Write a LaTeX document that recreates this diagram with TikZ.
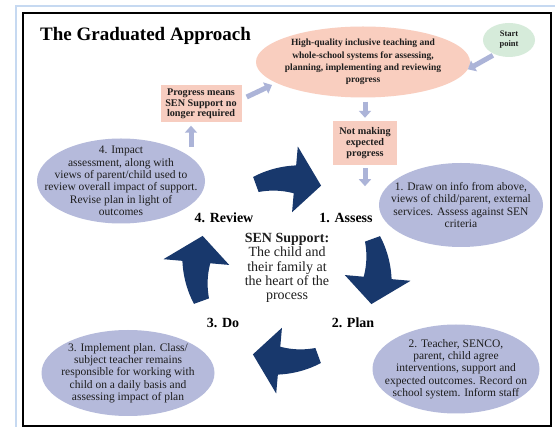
\documentclass[tikz,border=0pt]{standalone}
\usepackage{fontspec}
\setmainfont{Liberation Serif}
\usetikzlibrary{shapes.geometric,arrows.meta}
\definecolor{lav}{RGB}{181,186,219}
\definecolor{lavar}{RGB}{172,180,216}
\definecolor{pinkf}{RGB}{249,206,191}
\definecolor{boxf}{RGB}{247,205,192}
\definecolor{greenf}{RGB}{214,235,218}
\definecolor{navy}{RGB}{24,56,108}
\definecolor{frameblue}{RGB}{198,217,241}
\definecolor{txt}{RGB}{30,30,30}
\newcommand{\cycarrow}[1]{%
  \pgfmathsetmacro{\ta}{#1-21}%
  \pgfmathsetmacro{\tb}{#1+4}%
  \pgfmathsetmacro{\tc}{#1+21}%
  \fill[navy] plot[domain=\ta:\tb,samples=30] ({287+(99+6*(\x-(\ta))/25)*cos(\x)},{270+(99+6*(\x-(\ta))/25)*sin(\x)})
    -- ({287+124*cos(\tb)},{270+124*sin(\tb)})
    -- ({287+91*cos(\tc)},{270+91*sin(\tc)})
    -- ({287+58*cos(\tb)},{270+58*sin(\tb)})
    -- plot[domain=\tb:\ta,samples=30] ({287+(83-6*(\x-(\ta))/25)*cos(\x)},{270+(83-6*(\x-(\ta))/25)*sin(\x)})
    -- cycle;
}
\begin{document}
\begin{tikzpicture}[x=1pt,y=-1pt,
  shapeell/.style={ellipse, draw=none, inner sep=0pt},
  lavell/.style={shapeell, fill=lav},
  lavtxt/.style={align=center, font=\fontsize{11.5}{12.3}\selectfont, text=txt, inner sep=0pt},
  pinktxt/.style={align=center, font=\bfseries\fontsize{9.5}{12.4}\selectfont, text=txt, inner sep=0pt},
  salbox/.style={rectangle, fill=boxf, align=center, font=\bfseries\fontsize{10.2}{10.7}\selectfont, text=txt, inner sep=0pt},
  steplabel/.style={font=\bfseries\fontsize{14}{16}\selectfont, text=black, inner sep=0pt},
  lavarrow/.style={draw=lavar, line width=5pt, -{Triangle[width=12pt,length=7pt]}},
]
\useasboundingbox (0,0) rectangle (555,427);
\fill[white] (0,0) rectangle (555,427);
% frames
\draw[frameblue, line width=2pt] (16,427) -- (16,6) -- (555,6);
\draw[black, line width=1.6pt] (23,13) rectangle (551,426);
% title
\node[anchor=west, font=\bfseries\fontsize{19}{22}\selectfont, inner sep=0pt] (title) at (40,36) {The Graduated Approach};
% top ellipse
\node[shapeell, fill=pinkf, minimum width=214pt, minimum height=71pt] (hq) at (363,62) {};
\node[pinktxt] (hqt) at (hq) {High-quality inclusive teaching and\\whole-school systems for assessing,\\planning, implementing and reviewing\\progress};
% start
\node[shapeell, fill=greenf, minimum width=52pt, minimum height=34pt] (start) at (509,40) {};
\node[font=\bfseries\fontsize{8.5}{10}\selectfont, align=center, text=txt, inner sep=0pt] (startt) at (start) {Start\\point};
% boxes
\node[salbox, minimum width=81pt, minimum height=37pt] (prog) at (201,104) {Progress means\\SEN Support no\\longer required};
\node[salbox, minimum width=64pt, minimum height=44pt] (notm) at (365,143) {Not making\\expected\\progress};
% lavender ellipses
\node[lavell, minimum width=168pt, minimum height=85pt] (impact) at (121,181) {};
\node[lavtxt] (impactt) at (impact) {4. Impact\\assessment, along with\\views of parent/child used to\\review overall impact of support.\\Revise plan in light of\\outcomes};
\node[lavell, minimum width=164pt, minimum height=84pt] (draw) at (461,205) {};
\node[lavtxt] (drawt) at (draw) {1. Draw on info from above,\\views of child/parent, external\\services. Assess against SEN\\criteria};
\node[lavell, minimum width=173pt, minimum height=86pt] (impl) at (128,373) {};
\node[lavtxt] (implt) at (impl) {3. Implement plan. Class/\\subject teacher remains\\responsible for working with\\child on a daily basis and\\assessing impact of plan};
\node[lavell, minimum width=167pt, minimum height=89pt] (teach) at (456,369) {};
\node[lavtxt] (teacht) at (teach) {2. Teacher, SENCO,\\parent, child agree\\interventions, support and\\expected outcomes. Record on\\school system. Inform staff};
% light arrows
\draw[lavarrow, shorten <=2pt] (start.225) -- (hq.-4);
\draw[lavarrow] ([shift={(5,-7)}]prog.east) -- ([shift={(-91,23)}]hq.center);
\draw[lavarrow] ([shift={(70,-34)}]impact.center) -- ([shift={(-10,3)}]prog.south);
\draw[lavarrow] ([yshift=-4pt]hq.south -| notm) -- ([yshift=3pt]notm.north);
\draw[lavarrow] ([yshift=-3pt]notm.south) -- ([yshift=-21pt]notm.south);
% cycle
\cycarrow{-89}
\cycarrow{1}
\cycarrow{91}
\cycarrow{181}
\node[steplabel] (review) at (224,218) {4. Review};
\node[steplabel] (assess) at (346,218) {1. Assess};
\node[steplabel] (dolbl) at (223,323) {3. Do};
\node[steplabel] (plan) at (353,323) {2. Plan};
\node[align=center, font=\fontsize{14}{14.3}\selectfont, text=txt, inner sep=0pt] (core) at (287,268) {\textbf{SEN Support:}\\The child and\\their family at\\the heart of the\\process};
\end{tikzpicture}
\end{document}
